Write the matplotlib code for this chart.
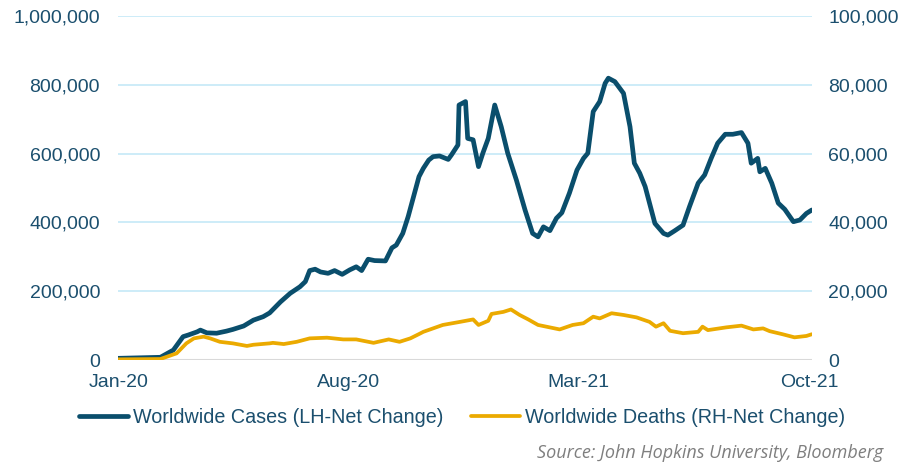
import pandas as pd
import matplotlib.pyplot as plt
from matplotlib.ticker import FuncFormatter

# days since 2020-01-01 and net change values
case_days = [0, 39, 51, 60, 65, 73, 76, 82, 91, 100, 106, 116, 125, 134, 140,
             150, 159, 168, 173, 177, 182, 187, 194, 200, 207, 214, 220, 225,
             231, 237, 247, 253, 257, 263, 268, 273, 278, 282, 287, 291, 297,
             305, 308, 314, 315, 321, 323, 328, 333, 337, 342, 348, 354, 360,
             368, 376, 383, 388, 393, 399, 405, 410, 417, 424, 430, 434, 439,
             445, 450, 453, 459, 467, 473, 477, 482, 487, 496, 504, 508, 514,
             522, 528, 536, 542, 548, 554, 561, 568, 576, 582, 585, 591, 593,
             598, 604, 610, 616, 624, 630, 636, 641]
cases = [5000, 8000, 29000, 68000, 73000, 82000, 87000, 79000, 78000, 84000,
         89000, 99000, 116000, 126000, 137000, 169000, 194000, 213000, 228000,
         260000, 264000, 256000, 252000, 260000, 249000, 262000, 271000,
         260000, 293000, 289000, 288000, 326000, 334000, 368000, 417000,
         475000, 533000, 557000, 581000, 591000, 593000, 583000, 596000,
         625000, 741000, 751000, 644000, 640000, 562000, 601000, 644000,
         741000, 678000, 601000, 523000, 436000, 368000, 358000, 387000,
         376000, 412000, 428000, 485000, 552000, 586000, 601000, 722000,
         751000, 804000, 819000, 809000, 775000, 678000, 572000, 543000,
         504000, 397000, 368000, 363000, 375000, 392000, 446000, 514000,
         538000, 586000, 630000, 656000, 656000, 661000, 630000, 572000,
         586000, 547000, 557000, 514000, 456000, 438000, 402000, 407000,
         426000, 436000]

death_days = [0, 39, 54, 63, 70, 79, 85, 94, 106, 119, 125, 140, 143, 153,
              165, 177, 193, 208, 220, 236, 250, 260, 270, 278, 282, 300, 316,
              328, 333, 342, 345, 356, 363, 371, 379, 388, 408, 420, 430, 439,
              445, 456, 467, 479, 491, 497, 504, 510, 522, 536, 540, 545, 562,
              576, 587, 596, 602, 614, 625, 636, 641]
deaths = [200, 300, 1950, 4850, 6300, 6800, 6300, 5300, 4850, 4100, 4450,
          4850, 5000, 4650, 5300, 6300, 6500, 6000, 6000, 5000, 6000, 5300,
          6300, 7550, 8200, 10200, 11100, 11800, 10200, 11400, 13400, 14000,
          14700, 13100, 11800, 10200, 8900, 10200, 10700, 12600, 12100, 13600,
          13100, 12400, 11100, 9700, 10700, 8500, 7800, 8200, 9700, 8700, 9500,
          10000, 8900, 9200, 8400, 7500, 6600, 7000, 7500]

tick_labels = ["Jan-20", "Aug-20", "Mar-21", "Oct-21"]
tick_dates = ["2020-01-01", "2020-08-01", "2021-03-01", "2021-10-01"]

start = pd.Timestamp("2020-01-01")
case_x = start + pd.to_timedelta(case_days, unit="D")
death_x = start + pd.to_timedelta(death_days, unit="D")

navy = "#0A4E6C"
gold = "#EBAA00"
txt = "#1B4F6E"

plt.rcParams['font.family'] = ['Liberation Sans', 'DejaVu Sans']

fig = plt.figure(figsize=(9.02, 4.67), dpi=100)
ax = fig.add_axes([0.131, 0.229, 0.769, 0.737])
ax2 = ax.twinx()

ax.plot(case_x, cases, color=navy, lw=3.4, solid_joinstyle='round',
        solid_capstyle='round', label="Worldwide Cases (LH-Net Change)", zorder=3)
ax2.plot(death_x, deaths, color=gold, lw=2.7, solid_joinstyle='round',
         solid_capstyle='round', label="Worldwide Deaths (RH-Net Change)", zorder=3)

ax.set_ylim(0, 1000000)
ax2.set_ylim(0, 100000)
ax.set_yticks(range(0, 1000001, 200000))
ax2.set_yticks(range(0, 100001, 20000))
fmt = FuncFormatter(lambda v, p: f"{int(v):,}")
ax.yaxis.set_major_formatter(fmt)
ax2.yaxis.set_major_formatter(fmt)

ax.set_xlim(start, pd.Timestamp("2021-10-03"))
ax.set_xticks(pd.to_datetime(tick_dates))
ax.set_xticklabels(tick_labels)

for a in (ax, ax2):
    for s in a.spines.values():
        s.set_visible(False)
    a.tick_params(length=0, labelsize=14, labelcolor=txt)
ax.tick_params(axis='y', pad=13)
ax2.tick_params(axis='y', pad=12)
ax.tick_params(axis='x', pad=10)

ax.yaxis.grid(True, color="#C9EAF8", lw=1.3)
ax.set_axisbelow(True)
ax.axhline(0, color="#D9D9D9", lw=1.5, zorder=2)

h1, l1 = ax.get_legend_handles_labels()
h2, l2 = ax2.get_legend_handles_labels()
fig.legend(h1 + h2, l1 + l2, loc='center', bbox_to_anchor=(0.512, 0.106),
           ncol=2, frameon=False, fontsize=14.2, labelcolor=txt,
           handlelength=2.5, handletextpad=0.25, columnspacing=1.4)

fig.text(0.979, 0.03, "Source: John Hopkins University, Bloomberg",
         ha='right', va='center', fontsize=13, style='italic',
         color="#7F7F7F", family=['Open Sans', 'DejaVu Sans'])

fig.savefig("out.png", dpi=100)
